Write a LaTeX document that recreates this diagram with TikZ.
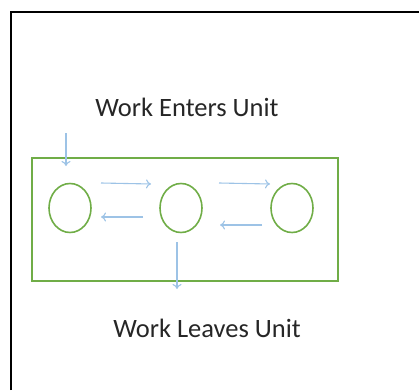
\documentclass[tikz,border=0pt]{standalone}
\usepackage{fontspec}
\setmainfont{Carlito}
\usetikzlibrary{arrows.meta,shapes.geometric}
\definecolor{officegreen}{HTML}{70AD47}
\definecolor{lightblue}{HTML}{9DC3E6}
\begin{document}
\begin{tikzpicture}[x=1pt,y=-1pt,
  frame/.style={line width=2pt,black},
  unitbox/.style={draw=officegreen,line width=1.3pt},
  stage/.style={draw=officegreen,line width=1.6pt,ellipse,minimum width=42pt,minimum height=49pt,inner sep=0pt},
  flow/.style={draw=lightblue,line width=1.1pt,-{To[length=5pt,width=9pt]}},
  label/.style={font=\fontsize{26.5}{30}\selectfont,text=black!85,inner sep=0pt}]
\useasboundingbox (0,0) rectangle (419,390);
\coordinate (fa) at (11,390);
\coordinate (fb) at (11,12);
\coordinate (fc) at (419,12);
\draw[frame] (fa) -- (fb) -- (fc);
\node[label] (enter) at (187,107) {Work Enters Unit};
\node[label] (leave) at (207,328) {Work Leaves Unit};
\node[unitbox,minimum width=306pt,minimum height=123pt,inner sep=0pt] (unit) at (185,219.5) {};
\node[stage] (s1) at (70,208) {};
\node[stage] (s2) at (181,208) {};
\node[stage] (s3) at (292,208) {};
\coordinate (in0) at (66,133);
\coordinate (in1) at (66,166);
\draw[flow] (in0) -- (in1);
\coordinate (a1) at (101,183); \coordinate (b1) at (151,184);
\draw[flow] (a1) -- (b1);
\coordinate (a2) at (143,217); \coordinate (b2) at (101,217);
\draw[flow] (a2) -- (b2);
\coordinate (a3) at (219,183); \coordinate (b3) at (270,184);
\draw[flow] (a3) -- (b3);
\coordinate (a4) at (262,225); \coordinate (b4) at (220,225);
\draw[flow] (a4) -- (b4);
\coordinate (out0) at (177,242);
\coordinate (out1) at (177,289);
\draw[flow] (out0) -- (out1);
\end{tikzpicture}
\end{document}
